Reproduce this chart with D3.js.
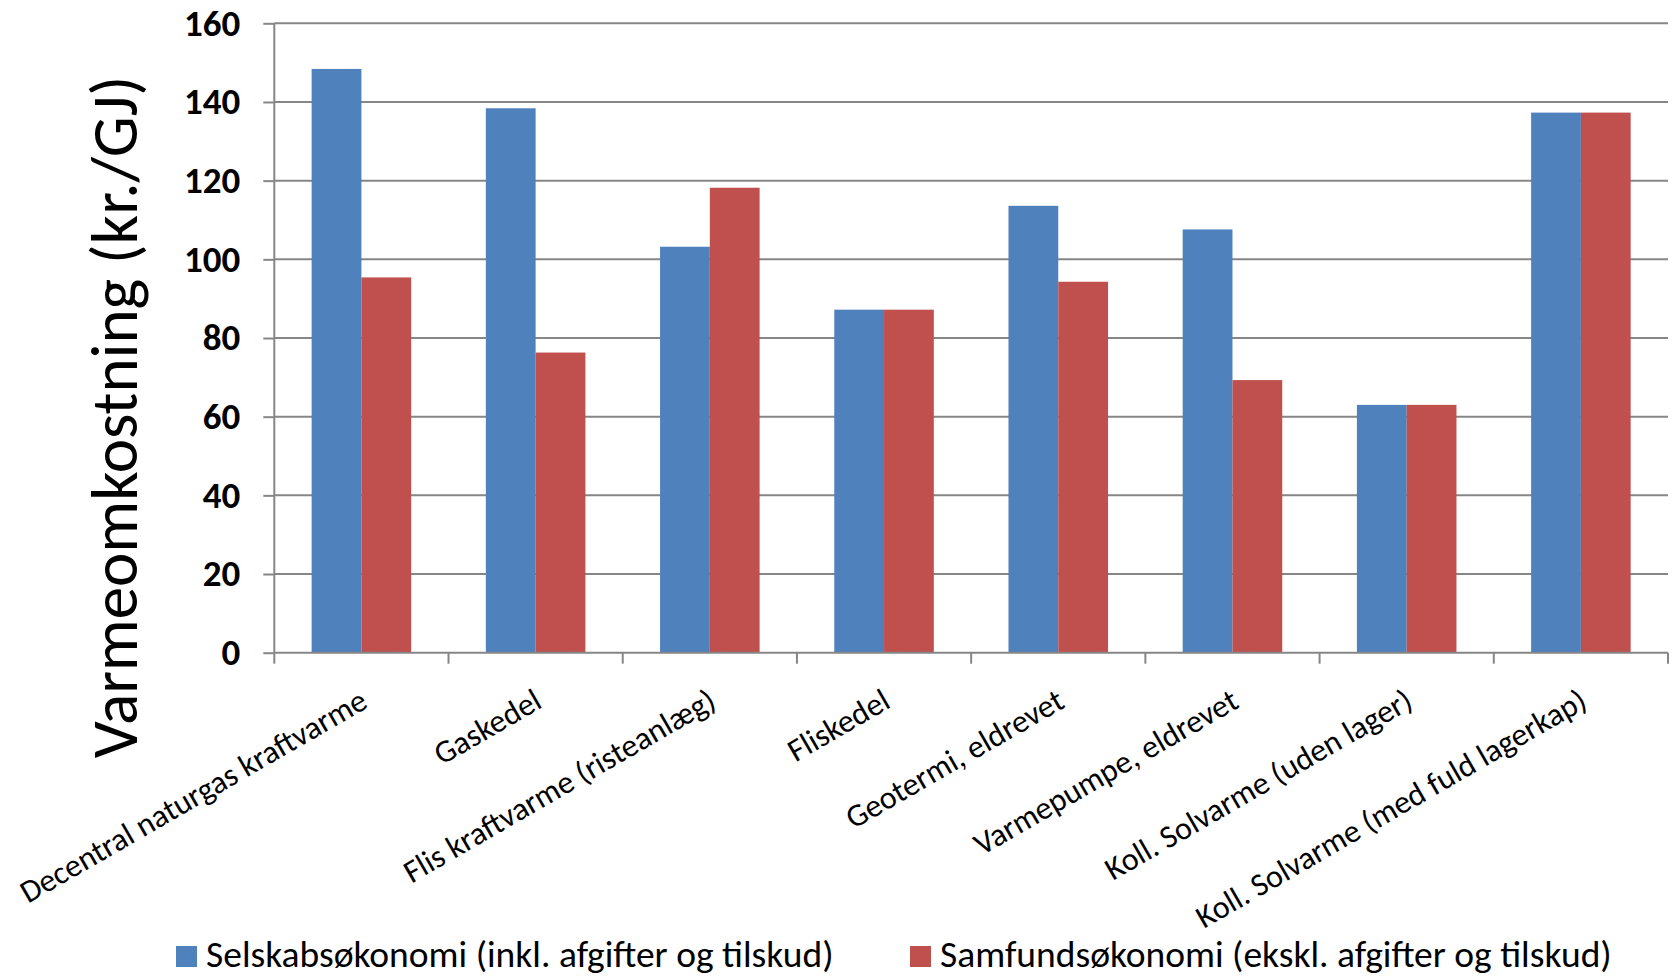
<!DOCTYPE html>
<html>
<head>
<meta charset="utf-8">
<script src="https://cdn.jsdelivr.net/npm/d3@7"></script>
<style>
  html, body { margin: 0; padding: 0; background: #fff; }
  svg { display: block; }
  text { font-family: Carlito, Calibri, Lato, sans-serif; fill: #000; }
</style>
</head>
<body>
<svg id="chart" width="1675" height="976"></svg>
<script>
// Heat cost per technology, kr./GJ
const categories = [
  "Decentral naturgas kraftvarme",
  "Gaskedel",
  "Flis kraftvarme (risteanlæg)",
  "Fliskedel",
  "Geotermi, eldrevet",
  "Varmepumpe, eldrevet",
  "Koll. Solvarme (uden lager)",
  "Koll. Solvarme (med fuld lagerkap)"
];
const seriesNames = [
  "Selskabsøkonomi (inkl. afgifter og tilskud)",
  "Samfundsøkonomi (ekskl. afgifter og tilskud)"
];
const selskab  = [148.4, 138.4, 103.2, 87.2, 113.6, 107.6, 63.0, 137.3];
const samfund  = [95.4, 76.3, 118.2, 87.2, 94.3, 69.3, 63.0, 137.3];
const yTicks   = [0, 20, 40, 60, 80, 100, 120, 140, 160];
const colors   = ["#4F81BD", "#C0504D"];
const yTitle   = "Varmeomkostning (kr./GJ)";

const svg = d3.select("#chart");
const plot = { left: 274.3, right: 1668, top: 23.3, bottom: 652.7 };

const x = d3.scaleBand().domain(categories).range([plot.left, plot.right]).paddingInner(0).paddingOuter(0);
// two bars per group, gap of 150% of a bar width
const xInner = d3.scaleBand().domain([0, 1]).range([0, x.bandwidth()]).paddingInner(0).paddingOuter(0.75);
const y = d3.scaleLinear().domain([0, 160]).range([plot.bottom, plot.top]);

const gridColor = "#868686";

// horizontal gridlines
svg.append("g").selectAll("line").data(yTicks.filter(d => d > 0)).join("line")
  .attr("x1", plot.left).attr("x2", plot.right)
  .attr("y1", d => y(d)).attr("y2", d => y(d))
  .attr("stroke", gridColor).attr("stroke-width", 2);

// bars
const rows = categories.map((c, i) => ({ c, v: [selskab[i], samfund[i]] }));
const groups = svg.append("g").selectAll("g").data(rows).join("g")
  .attr("transform", d => `translate(${x(d.c)},0)`);
groups.selectAll("rect").data(d => d.v.map((v, k) => ({ v, k }))).join("rect")
  .attr("x", d => xInner(d.k))
  .attr("width", xInner.bandwidth())
  .attr("y", d => y(d.v))
  .attr("height", d => y(0) - y(d.v))
  .attr("fill", d => colors[d.k]);

// y axis
const yAxis = d3.axisLeft(y).tickValues(yTicks).tickSize(11).tickPadding(23).tickFormat(d3.format("d"));
const gy = svg.append("g").attr("transform", `translate(${plot.left},0)`).call(yAxis);
gy.select(".domain").attr("stroke", gridColor).attr("stroke-width", 2).attr("d", `M0,${plot.top}V${plot.bottom}`);
gy.selectAll(".tick line").attr("stroke", gridColor).attr("stroke-width", 2);
gy.selectAll(".tick text")
  .style("font-family", "Carlito, Calibri, Lato, sans-serif")
  .style("font-size", "37px").style("font-weight", "bold").attr("fill", "#000");

// x axis: baseline plus ticks at category boundaries
const gx = svg.append("g");
gx.append("line").attr("x1", plot.left).attr("x2", plot.right)
  .attr("y1", plot.bottom).attr("y2", plot.bottom)
  .attr("stroke", gridColor).attr("stroke-width", 2);
const bounds = categories.map(c => x(c)).concat([plot.right]);
gx.selectAll("line.tk").data(bounds).join("line").attr("class", "tk")
  .attr("x1", d => d).attr("x2", d => d)
  .attr("y1", plot.bottom).attr("y2", plot.bottom + 11)
  .attr("stroke", gridColor).attr("stroke-width", 2);

// rotated category labels
gx.selectAll("text").data(categories).join("text")
  .attr("transform", d => `translate(${x(d) + x.bandwidth() / 2 + 8},${plot.bottom + 54}) rotate(-30)`)
  .attr("text-anchor", "end")
  .style("font-size", "32px")
  .text(d => d);

// y axis title
svg.append("text")
  .attr("transform", `translate(137,417) rotate(-90)`)
  .attr("text-anchor", "middle")
  .style("font-size", "65px")
  .text(yTitle);

// legend
const legendX = [176, 910];
const lg = svg.append("g").selectAll("g").data(seriesNames).join("g")
  .attr("transform", (d, i) => `translate(${legendX[i]},946)`);
lg.append("rect").attr("width", 21).attr("height", 21).attr("fill", (d, i) => colors[i]);
lg.append("text").attr("x", 30).attr("y", 20.5).style("font-size", "37.5px").text(d => d);
</script>
</body>
</html>
